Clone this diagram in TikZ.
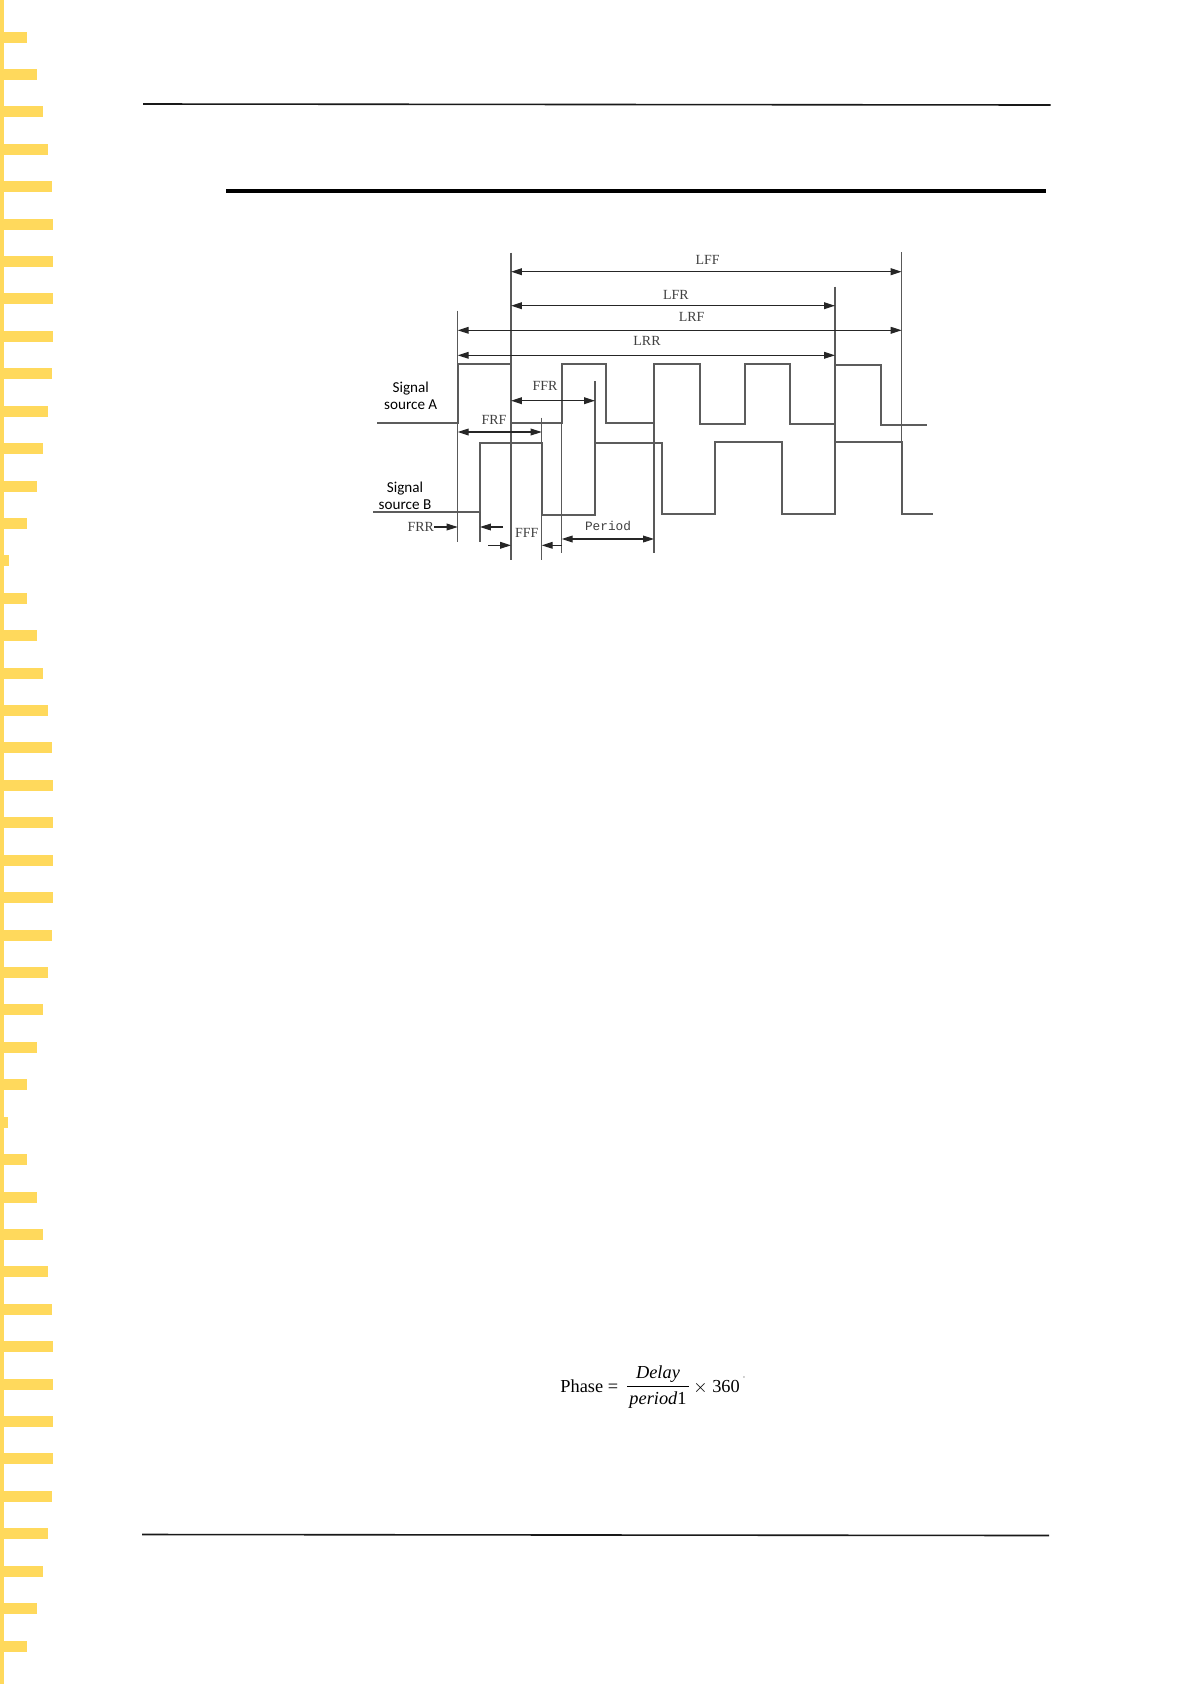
\documentclass[tikz,border=0pt]{standalone}
\usepackage{fontspec}
\usepackage{xcolor}
\setmainfont{Liberation Serif}
\newfontfamily\labelfont{Carlito}
\definecolor{tabyellow}{rgb}{1.0,0.85,0.36}
\definecolor{trace}{rgb}{0.36,0.36,0.36}
\usetikzlibrary{arrows.meta}
\usetikzlibrary{positioning}
\tikzset{
	rule/.style={color=black!90, line width=0.8bp},
	signal/.style={color=trace, line width=0.95bp},
	edgeline/.style={color=black!65, line width=0.6bp},
	dimen/.style={color=black!85, line width=0.55bp, {Triangle[length=5.5pt,width=3.4pt]}-{Triangle[length=5.5pt,width=3.4pt]}},
	tip/.style={color=black!85, line width=0.55bp, -{Triangle[length=5.5pt,width=3.4pt]}},
	dimlabel/.style={font=\fontsize{7}{8}\selectfont, color=black!75, inner sep=0pt},
	sourcelabel/.style={font=\fontsize{7.6}{8.6}\labelfont, align=center, inner sep=0pt},
	formula/.style={font=\fontsize{9.2}{10}\selectfont, inner sep=0pt}
}
\begin{document}
\begin{tikzpicture}[x=0.5bp, y=-0.5bp]
\useasboundingbox (0,0) rectangle (1191,1684);

% yellow tabs
\fill[tabyellow] (0,0) rectangle (4,1684);
\foreach \idx/\len in {0/27,1/37,2/43,3/48,4/52,5/53,6/53,7/53,8/53,9/52,10/48,11/43,12/37,13/27,14/9,
	15/27,16/37,17/43,18/48,19/52,20/53,21/53,22/53,23/53,24/52,25/48,26/43,27/37,28/27,29/8,
	30/27,31/37,32/43,33/48,34/52,35/53,36/53,37/53,38/53,39/52,40/48,41/43,42/37,43/27}
	\fill[tabyellow] (0,{37+37.42*\idx-5.5}) rectangle (\len,{37+37.42*\idx+5.5});

% page rules
\draw[rule] (143,104) -- (1050.5,105);
\draw[color=black, line width=2.3bp] (226,191) -- (1046,191);
\draw[rule] (142,1534.5) -- (1049,1535.5);

% edges of the traces
\coordinate (ea) at (457.7,0);
\coordinate (eb) at (480,0);
\coordinate (ec) at (511,0);
\coordinate (ed) at (541.7,0);
\coordinate (ee) at (561.7,0);
\coordinate (ef) at (595,0);
\coordinate (eg) at (654,0);
\coordinate (eh) at (835,0);
\coordinate (ei) at (901.7,0);

% Signal A
\draw[signal] (377.3,423.3) -- (457.7,423.3) -- (457.7,364) -- (511,364) -- (511,423.3) -- (561.7,423.3) -- (561.7,364) -- (606,364) -- (606,423.3) -- (654,423.3) -- (654,364) -- (700,364) -- (700,424) -- (745,424) -- (745,364) -- (790,364) -- (790,424) -- (835,424) -- (835,365) -- (881,365) -- (881,425) -- (927,425);

% Signal B
\draw[signal] (373,511.7) -- (480,511.7) -- (480,442.7) -- (541.7,442.7) -- (541.7,515) -- (595,515) -- (595,442.7) -- (661.7,442.7) -- (661.7,514.3) -- (715,514.3) -- (715,442) -- (781.7,442) -- (781.7,514) -- (835,514) -- (835,441.7) -- (901.7,441.7) -- (901.7,513.7) -- (932.7,513.7);

% edge lines
\draw[edgeline] (ea |- 0,310.7) -- (ea |- 0,541.7);
\draw[edgeline] (eb |- 0,511.7) -- (eb |- 0,541.7);
\draw[edgeline] (ec |- 0,252.7) -- (ec |- 0,560);
\draw[edgeline] (ed |- 0,417.7) -- (ed |- 0,560);
\draw[edgeline] (ee |- 0,364) -- (ee |- 0,553);
\draw[edgeline] (ef |- 0,381) -- (ef |- 0,515);
\draw[edgeline] (eg |- 0,364) -- (eg |- 0,553);
\draw[edgeline] (eh |- 0,286.7) -- (eh |- 0,514);
\draw[edgeline] (ei |- 0,252) -- (ei |- 0,514);

% top arrows
\draw[dimen] (ec |- 0,271.7) -- (ei |- 0,271.7);
\draw[dimen] (ec |- 0,305.7) -- (eh |- 0,305.7);
\draw[dimen] (ea |- 0,330.3) -- (ei |- 0,330.3);
\draw[dimen] (ea |- 0,355.3) -- (eh |- 0,355.3);
\node[dimlabel] (lff) at (707.7,260) {LFF};
\node[dimlabel] (lfr) at (676,295) {LFR};
\node[dimlabel] (lrf) at (691.7,317) {LRF};
\node[dimlabel] (lrr) at (647,341) {LRR};

% middle arrows
\draw[dimen] (ec |- 0,400.7) -- (ef |- 0,400.7);
\draw[dimen] (ea |- 0,432) -- (ed |- 0,432);
\node[dimlabel] (ffr) at (545,386) {FFR};
\node[dimlabel] (frf) at (494,420) {FRF};

% bottom arrows
\node[dimlabel] (frr) at (420.7,527) {FRR};
\draw[tip] (frr.east) -- (ea |- frr);
\draw[tip] (503,527) -- (eb |- 0,527);
\draw[tip] (488,545.3) -- (ec |- 0,545.3);
\draw[tip] (ee |- 0,545.3) -- (ed |- 0,545.3);
\draw[dimen] (ee |- 0,539) -- (eg |- 0,539);
\node[dimlabel] (fff) at (526.7,533) {FFF};
\node[dimlabel, font=\fontsize{6.4}{8}\selectfont] (period) at (608,526) {\fontspec{Liberation Mono}Period};

% source labels
\node[sourcelabel] (srca) at (410.7,395.5) {Signal\\source A};
\node[sourcelabel] (srcb) at (405,495.5) {Signal\\source B};

% phase formula
\node[formula, anchor=base west] (phase) at (560,1392) {Phase =};
\node[formula, anchor=base, font=\fontsize{9.2}{10}\itshape] (delay) at (658,1378) {Delay};
\node[formula, anchor=base, font=\fontsize{9.2}{10}\itshape] (per) at (658,1404) {period\upshape 1};
\draw[color=black, line width=0.5bp] (627,1386.7) -- (689,1386.7);
\node[formula, anchor=base west] (times) at (693,1392) {$\times$ 360};
\node[formula, color=black!50, font=\fontsize{3}{3}\selectfont] (deg) at (744,1378) {°};
\end{tikzpicture}
\end{document}
